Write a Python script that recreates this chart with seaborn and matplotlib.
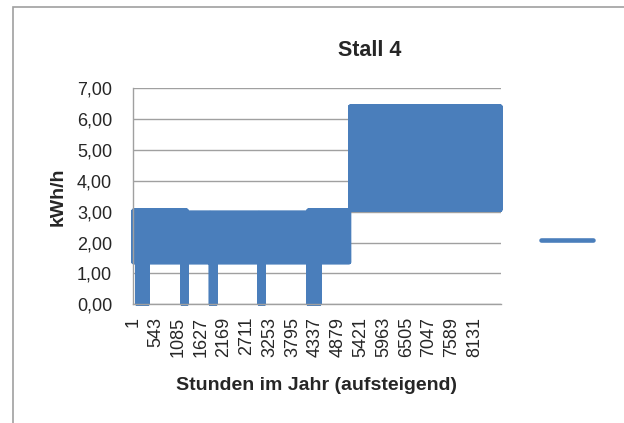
import numpy as np
import pandas as pd
import matplotlib
matplotlib.use("Agg")
import matplotlib.pyplot as plt
from matplotlib.lines import Line2D
from matplotlib.patches import Rectangle
import seaborn as sns

# Stall 4 - hourly load.
# each segment: first hour, lower and upper edge of the band (kWh/h)
seg_start = [1, 88, 362, 1163, 1291, 1839, 1981, 3000, 3129, 4164, 4448, 5160]
seg_low = [1.35, 0.0, 1.35, 0.0, 1.35, 0.0, 1.35, 0.0, 1.35, 0.0, 1.35, 3.05]
seg_high = [3.05, 3.05, 3.05, 3.05, 2.98, 2.98, 2.98, 2.98, 2.98, 3.05, 3.05, 6.42]

n_hours = 8760
xtick_vals = [1, 543, 1085, 1627, 2169, 2711, 3253, 3795, 4337, 4879,
              5421, 5963, 6505, 7047, 7589, 8131]
ytick_vals = [0, 1, 2, 3, 4, 5, 6, 7]

# hourly series swings between the lower and upper edge of its segment
hours = np.arange(1, n_hours + 1)
seg = np.searchsorted(seg_start, hours, side="right") - 1
low = np.array(seg_low)[seg]
high = np.array(seg_high)[seg]
vals = np.where(hours % 2 == 1, low, high)
df = pd.DataFrame({"Stunde": hours, "kWh": vals})

blue = "#4a7ebb"
grey = "#a0a0a0"

sns.set_style("white")
plt.rcParams["font.family"] = ["Liberation Sans", "DejaVu Sans"]

fig = plt.figure(figsize=(6.24, 4.23), dpi=100)
ax = fig.add_axes([133 / 624, 1 - 304.3 / 423, 368 / 624, 216 / 423])

sns.lineplot(data=df, x="Stunde", y="kWh", estimator=None, sort=False,
             color=blue, linewidth=2.25, ax=ax, legend=False)
for ln in ax.lines:
    ln.set_clip_on(False)

ax.set_xlim(1, n_hours)
ax.set_ylim(0, 7)
ax.set_xticks(xtick_vals)
ax.set_xticklabels([str(v) for v in xtick_vals], rotation=90, fontsize=13)
ax.set_yticks(ytick_vals)
ax.set_yticklabels([f"{v:.2f}".replace(".", ",") for v in ytick_vals], fontsize=13)
ax.tick_params(axis="x", length=0, pad=9)
ax.tick_params(axis="y", length=3, color=grey, pad=12)

ax.grid(axis="y", color=grey, linewidth=1)
ax.set_axisbelow(True)
for s in ["top", "right"]:
    ax.spines[s].set_visible(False)
for s in ["left", "bottom"]:
    ax.spines[s].set_color(grey)
    ax.spines[s].set_linewidth(1)

ax.set_xlabel("Stunden im Jahr (aufsteigend)", fontsize=14, fontweight="bold")
ax.set_ylabel("kWh/h", fontsize=14, fontweight="bold")
ax.xaxis.set_label_coords(0.5, -0.335)
ax.yaxis.set_label_coords(-0.18, 0.5)

fig.text(370 / 624, 1 - 50 / 423, "Stall 4", fontsize=15.5, fontweight="bold",
         ha="center", va="center")

# legend: only the line, no text
fig.legend(handles=[Line2D([], [], color=blue, linewidth=3.3)], labels=[""],
           loc="center", bbox_to_anchor=(567 / 624, 1 - 242 / 423),
           frameon=False, handlelength=2.9, handletextpad=0, borderpad=0,
           fontsize=13)

# chart area border (cut off at right and bottom)
fig.patches.append(Rectangle((13 / 624, -0.2), 1.5, 1.2 - 7 / 423,
                             transform=fig.transFigure, fill=False,
                             edgecolor=grey, linewidth=1.2))

fig.savefig("out.png", dpi=100)
